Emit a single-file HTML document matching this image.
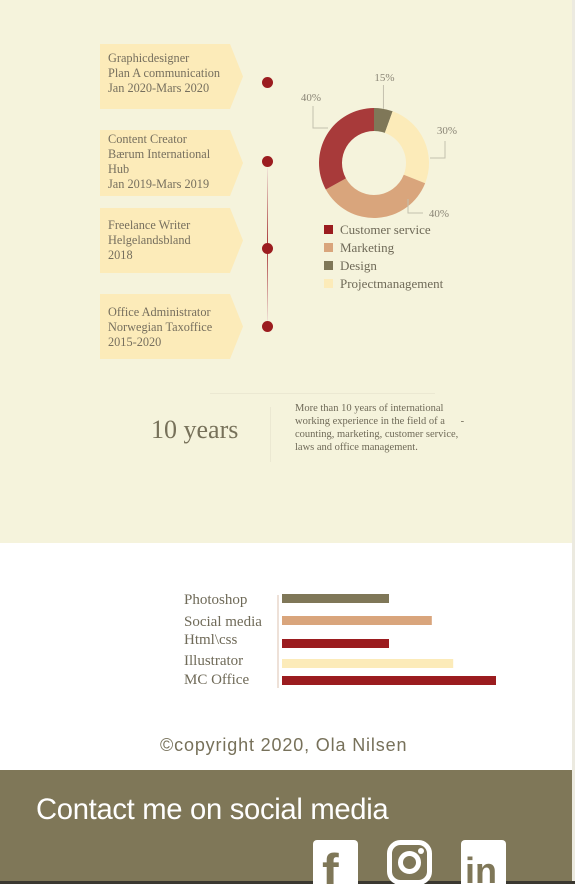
<!DOCTYPE html>
<html><head><meta charset="utf-8"><style>
*{margin:0;padding:0;box-sizing:border-box}
body{width:575px;height:884px;position:relative;overflow:hidden;background:#fff;font-family:"Liberation Serif",serif;color:#6f6a58}
.abs{position:absolute}
.box{position:absolute;left:100px;width:143px;background:#fcebb9;clip-path:polygon(0 0,130px 0,143px 50%,130px 100%,0 100%);font-size:12.3px;line-height:15px;padding:7px 0 0 8px;color:#766f5e;white-space:nowrap}
.dot{position:absolute;width:11px;height:11px;border-radius:50%;background:#9b1c1f;left:262px}
</style></head><body>
<div class="abs" style="left:0;top:0;width:572px;height:543px;background:#f5f3dc"></div>
<div class="abs" style="left:572px;top:0;width:3px;height:770px;background:#eceae0"></div>
<div class="box" style="top:44px;height:65px">Graphicdesigner<br>Plan A communication<br>Jan 2020-Mars 2020</div>
<div class="box" style="top:130px;height:66px;padding-top:2px">Content Creator<br>Bærum International<br>Hub<br>Jan 2019-Mars 2019</div>
<div class="box" style="top:208px;height:65px;padding-top:10px">Freelance Writer<br>Helgelandsbland<br>2018</div>
<div class="box" style="top:294px;height:65px;padding-top:11px">Office Administrator<br>Norwegian Taxoffice<br>2015-2020</div>
<div class="abs" style="left:267px;top:168px;width:1px;height:154px;background:linear-gradient(#f0e4d8,#a8383a 50%,#f0e4d8)"></div>
<div class="dot" style="top:77px"></div>
<div class="dot" style="top:156px"></div>
<div class="dot" style="top:243px"></div>
<div class="dot" style="top:321px"></div>

<svg class="abs" id="donut" style="left:280px;top:60px" width="200" height="240"></svg>

<div class="abs" style="left:210px;top:393px;width:225px;height:1px;background:#ebe8d2"></div>
<div class="abs" style="left:270px;top:407px;width:1px;height:55px;background:#ebe8d2"></div>
<div class="abs" style="left:151px;top:415px;font-size:26px;color:#77715a">10 years</div>
<div class="abs" style="left:295px;top:402px;font-size:10.5px;line-height:13px;color:#6f6a58;width:185px">More than 10 years of international<br>working experience in the field of a &nbsp;&nbsp;&nbsp;&nbsp; -<br>counting, marketing, customer service,<br>laws and office management.</div>

<svg class="abs" id="bars" style="left:0;top:585px" width="575" height="110"></svg>

<div class="abs" style="left:160px;top:735px;font-family:'Liberation Sans',sans-serif;font-size:18px;letter-spacing:0.85px;color:#77715a">©copyright 2020, Ola Nilsen</div>
<div class="abs" style="left:0;top:770px;width:575px;height:114px;background:#7f7758"></div>
<div class="abs" style="left:572px;top:770px;width:3px;height:114px;background:#eceae0"></div>
<div class="abs" style="left:0;top:881px;width:575px;height:3px;background:#3a3830"></div>
<div class="abs" style="left:36px;top:794px;font-family:'Liberation Sans',sans-serif;font-size:29.2px;color:#fff;letter-spacing:-0.3px">Contact me on social media</div>
<svg class="abs" style="left:313px;top:840px" width="45" height="44"><rect width="45" height="48" rx="4" fill="#fff"/><text x="9" y="49" font-family="Liberation Sans" font-weight="bold" font-size="50" fill="#7f7758">f</text></svg>
<svg class="abs" style="left:387px;top:840px" width="45" height="44"><rect x="2.5" y="2.5" width="40" height="40" rx="11" fill="none" stroke="#fff" stroke-width="5"/><circle cx="22.5" cy="22.5" r="9" fill="none" stroke="#fff" stroke-width="5"/><circle cx="34" cy="11" r="3" fill="#fff"/></svg>
<svg class="abs" style="left:461px;top:840px" width="45" height="44"><rect width="45" height="48" rx="4" fill="#fff"/><text x="4" y="43" font-family="Liberation Sans" font-weight="bold" font-size="36" fill="#7f7758">in</text></svg>

<script>
const NS="http://www.w3.org/2000/svg";
const sliceNames=["Design","Projectmanagement","Marketing","Customer service"];
const sliceValues=[5.5,25.5,36,33];
const sliceColors=["#7f7758","#fcebb9","#d9a57c","#a83a3a"];
const sliceLabels=["15%","30%","40%","40%"];
const legendNames=["Customer service","Marketing","Design","Projectmanagement"];
const legendColors=["#9b1c1f","#d9a57c","#7f7758","#fcebb9"];
const d=document.getElementById("donut");
const cx=94,cy=103,R=55,r=32;
const total=sliceValues.reduce((a,b)=>a+b,0);
function pt(a,rad){return [cx+rad*Math.sin(a),cy-rad*Math.cos(a)];}
let a0=0;
sliceValues.forEach((v,i)=>{
  const a1=a0+v/total*2*Math.PI;const lg=(a1-a0)>Math.PI?1:0;
  const p1=pt(a0,R),p2=pt(a1,R),p3=pt(a1,r),p4=pt(a0,r);
  const p=document.createElementNS(NS,"path");
  p.setAttribute("d",`M${p1}A${R} ${R} 0 ${lg} 1 ${p2}L${p3}A${r} ${r} 0 ${lg} 0 ${p4}Z`);
  p.setAttribute("fill",sliceColors[i]);
  
  
  d.appendChild(p);
  const m=(a0+a1)/2;const e=pt(m,R);
  let pts,tx,ty;
  if(i===0){pts=`${e[0]},${e[1]} ${e[0]},${cy-78}`;tx=e[0]+1;ty=cy-82;}
  else if(i===1){pts=`${cx+56},${cy-5} ${cx+71},${cy-5} ${cx+71},${cy-22}`;tx=cx+73;ty=cy-29;}
  else if(i===2){pts=`${cx+34},${cy+36} ${cx+34},${cy+50} ${cx+49},${cy+50}`;tx=cx+65;ty=cy+54;}
  else {pts=`${cx-46},${cy-35} ${cx-61},${cy-35} ${cx-61},${cy-57}`;tx=cx-63;ty=cy-62;}
  const pl=document.createElementNS(NS,"polyline");
  pl.setAttribute("points",pts);
  pl.setAttribute("fill","none");pl.setAttribute("stroke","#c4c0ae");
  d.appendChild(pl);
  const t=document.createElementNS(NS,"text");
  t.setAttribute("x",tx);t.setAttribute("y",ty);t.setAttribute("text-anchor","middle");
  t.setAttribute("font-size","11");t.setAttribute("fill","#8a8576");t.setAttribute("font-family","Liberation Serif");
  t.textContent=sliceLabels[i];
  
  
  d.appendChild(t);
  a0=a1;
});
legendNames.forEach((n,i)=>{
  const y=165+i*18;
  const s=document.createElementNS(NS,"rect");
  s.setAttribute("x",44);s.setAttribute("y",y);s.setAttribute("width",9);s.setAttribute("height",9);s.setAttribute("fill",legendColors[i]);
  
  
  d.appendChild(s);
  const t=document.createElementNS(NS,"text");
  t.setAttribute("x",60);t.setAttribute("y",y+9);t.setAttribute("font-size","13");t.setAttribute("fill","#6f6a58");t.setAttribute("font-family","Liberation Serif");
  t.textContent=n;
  
  
  d.appendChild(t);
});

const skills=["Photoshop","Social media","Html\\css","Illustrator","MC Office"];
const skillValues=[50,70,50,80,100];
const skillColors=["#7f7758","#d9a57c","#9b1c1f","#fcebb9","#9b1c1f"];
const b=document.getElementById("bars");
const x0=282,scale=214/100;
const rowY=[9,31,54,74,91];
const labelY=[19,41,59,80,99];
const ax=document.createElementNS(NS,"line");
ax.setAttribute("x1",278);ax.setAttribute("x2",278);ax.setAttribute("y1",10);ax.setAttribute("y2",103);ax.setAttribute("stroke","#dcc3b0");
b.appendChild(ax);
skills.forEach((s,i)=>{
  const r=document.createElementNS(NS,"rect");
  r.setAttribute("x",x0);r.setAttribute("y",rowY[i]);r.setAttribute("width",skillValues[i]*scale);r.setAttribute("height",9);r.setAttribute("fill",skillColors[i]);
  
  
  b.appendChild(r);
  const t=document.createElementNS(NS,"text");
  t.setAttribute("x",184);t.setAttribute("y",labelY[i]);t.setAttribute("font-size","15");t.setAttribute("fill","#6f6a58");t.setAttribute("font-family","Liberation Serif");
  t.textContent=s;
  
  
  b.appendChild(t);
});
</script>
</body></html>
